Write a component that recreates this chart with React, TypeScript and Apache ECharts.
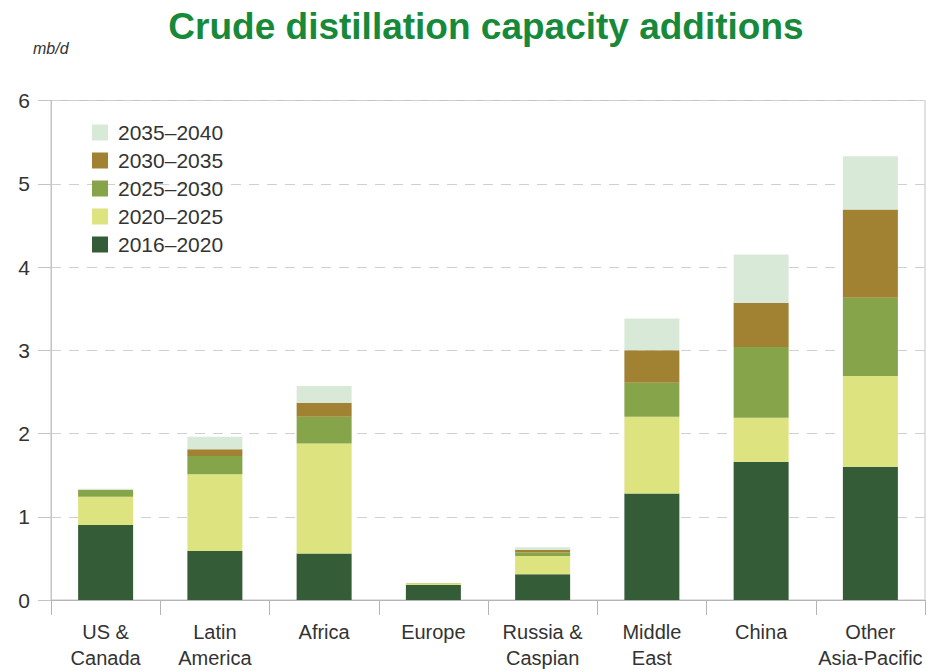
import React, { useEffect, useRef } from "react";
import * as echarts from "echarts";

const categories = [
  "US &\nCanada",
  "Latin\nAmerica",
  "Africa",
  "Europe",
  "Russia &\nCaspian",
  "Middle\nEast",
  "China",
  "Other\nAsia-Pacific",
];
const seriesNames = ["2016–2020", "2020–2025", "2025–2030", "2030–2035", "2035–2040"];
const s2016_2020 = [0.9, 0.59, 0.56, 0.18, 0.31, 1.28, 1.66, 1.6];
const s2020_2025 = [0.34, 0.92, 1.32, 0.02, 0.22, 0.92, 0.53, 1.09];
const s2025_2030 = [0.08, 0.22, 0.32, 0.005, 0.04, 0.41, 0.85, 0.94];
const s2030_2035 = [0.005, 0.08, 0.17, 0.0, 0.03, 0.39, 0.53, 1.06];
const s2035_2040 = [0.01, 0.15, 0.2, 0.0, 0.035, 0.38, 0.58, 0.64];
const seriesValues = [s2016_2020, s2020_2025, s2025_2030, s2030_2035, s2035_2040];
const colors = ["#335c37", "#dde37f", "#86a54b", "#a08232", "#d9e9d8"];

const FONT = "'Liberation Sans', Arial, sans-serif";

export default function App() {
  const ref = useRef<HTMLDivElement>(null);
  useEffect(() => {
    if (!ref.current) return;
    const chart = echarts.init(ref.current, null, { renderer: "svg" });
    chart.setOption({
      animation: false,
      backgroundColor: "#ffffff",
      graphic: [
        {
          type: "text",
          x: 486,
          y: 26,
          style: {
            text: "Crude distillation capacity additions",
            fill: "#16893b",
            font: `bold 37px ${FONT}`,
            textAlign: "center",
            textVerticalAlign: "middle",
          },
        },
        {
          type: "text",
          x: 33,
          y: 48,
          style: {
            text: "mb/d",
            fill: "#333",
            font: `italic 16px ${FONT}`,
            textAlign: "left",
            textVerticalAlign: "middle",
          },
        },
      ],
      legend: {
        orient: "vertical",
        left: 92,
        top: 122,
        padding: 0,
        itemWidth: 16,
        itemHeight: 16,
        itemGap: 7,
        icon: "rect",
        data: [...seriesNames].reverse(),
        textStyle: {
          fontFamily: FONT,
          fontSize: 21,
          color: "#333",
          padding: [0, 0, 0, 5],
        },
      },
      grid: {
        left: 51,
        right: 19,
        top: 100.5,
        bottom: 68.5,
        show: true,
        borderColor: "#c4c4c4",
        borderWidth: 1,
        containLabel: false,
      },
      xAxis: {
        type: "category",
        data: categories,
        axisLine: { show: true, lineStyle: { color: "#b5b5b5" } },
        axisTick: { show: true, length: 15, lineStyle: { color: "#b5b5b5" } },
        axisLabel: {
          fontFamily: FONT,
          fontSize: 20,
          color: "#333",
          margin: 19,
          lineHeight: 26,
          interval: 0,
        },
      },
      yAxis: {
        type: "value",
        min: 0,
        max: 6,
        interval: 1,
        axisLine: { show: true, lineStyle: { color: "#c4c4c4" } },
        axisTick: { show: true, length: 13, lineStyle: { color: "#c4c4c4" } },
        axisLabel: { fontFamily: FONT, fontSize: 21, color: "#333", margin: 21 },
        splitLine: { show: true, lineStyle: { color: "#d0d0d0", type: [10, 8], width: 1.2 } },
      },
      series: seriesNames.map((name, i) => ({
        name,
        type: "bar",
        stack: "total",
        barWidth: 55,
        data: seriesValues[i],
        itemStyle: { color: colors[i] },
      })),
    });
    return () => chart.dispose();
  }, []);
  return (
    <div
      ref={ref}
      style={{ position: "fixed", left: 0, top: 0, width: 944, height: 671 }}
    />
  );
}
